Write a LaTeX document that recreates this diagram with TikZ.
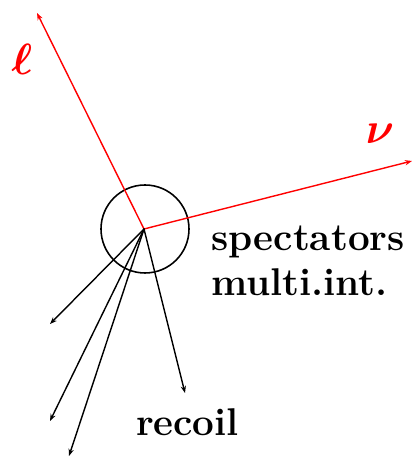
\documentclass[tikz,border=0pt]{standalone}
\usepackage{bm}
\usetikzlibrary{arrows.meta}

\begin{document}
\begin{tikzpicture}[
  line cap=round,
  lepton/.style={line width=0.8pt,red,-{Stealth[length=4pt,width=3pt]}},
  track/.style={line width=0.8pt,black,-{Stealth[length=4pt,width=3pt]}},
  lab/.style={font=\fontsize{22}{25.5}\selectfont\bfseries,inner sep=0pt},
  plab/.style={text=red,inner sep=0pt}
]
\useasboundingbox (0,0) rectangle (8.32,9.16);

% ---- vertex and spectator blob ----
\coordinate (V) at (2.88,4.58);
\node[draw,circle,line width=0.9pt,minimum size=1.76cm,inner sep=0pt]
  (blob) at (2.90,4.58) {};

% ---- end points ----
\coordinate (L) at (0.74,8.90);   % lepton
\coordinate (N) at (8.24,5.94);   % neutrino
\coordinate (A1) at (1.00,2.68);
\coordinate (A2) at (1.00,0.74);
\coordinate (A3) at (1.38,0.04);
\coordinate (R) at (3.70,1.30);   % recoil

% ---- lepton and neutrino ----
\draw[lepton] (V) -- (L);
\draw[lepton] (V) -- (N);
\node[plab,font=\fontsize{24}{28}\selectfont] (ell) at (0.44,7.98) {$\bm{\ell}$};
\node[plab,font=\fontsize{28}{32}\selectfont] (nu) at (7.60,6.48) {$\bm{\nu}$};

% ---- hadronic tracks ----
\foreach \e in {A1,A2,A3,R}
  \draw[track] (V) -- (\e);

% ---- labels ----
\node[lab,anchor=west,align=left] (spec) at (4.22,3.95)
  {spectators\\multi.int.};
\node[lab] (rec) at (3.75,0.72) {recoil};

\end{tikzpicture}
\end{document}
